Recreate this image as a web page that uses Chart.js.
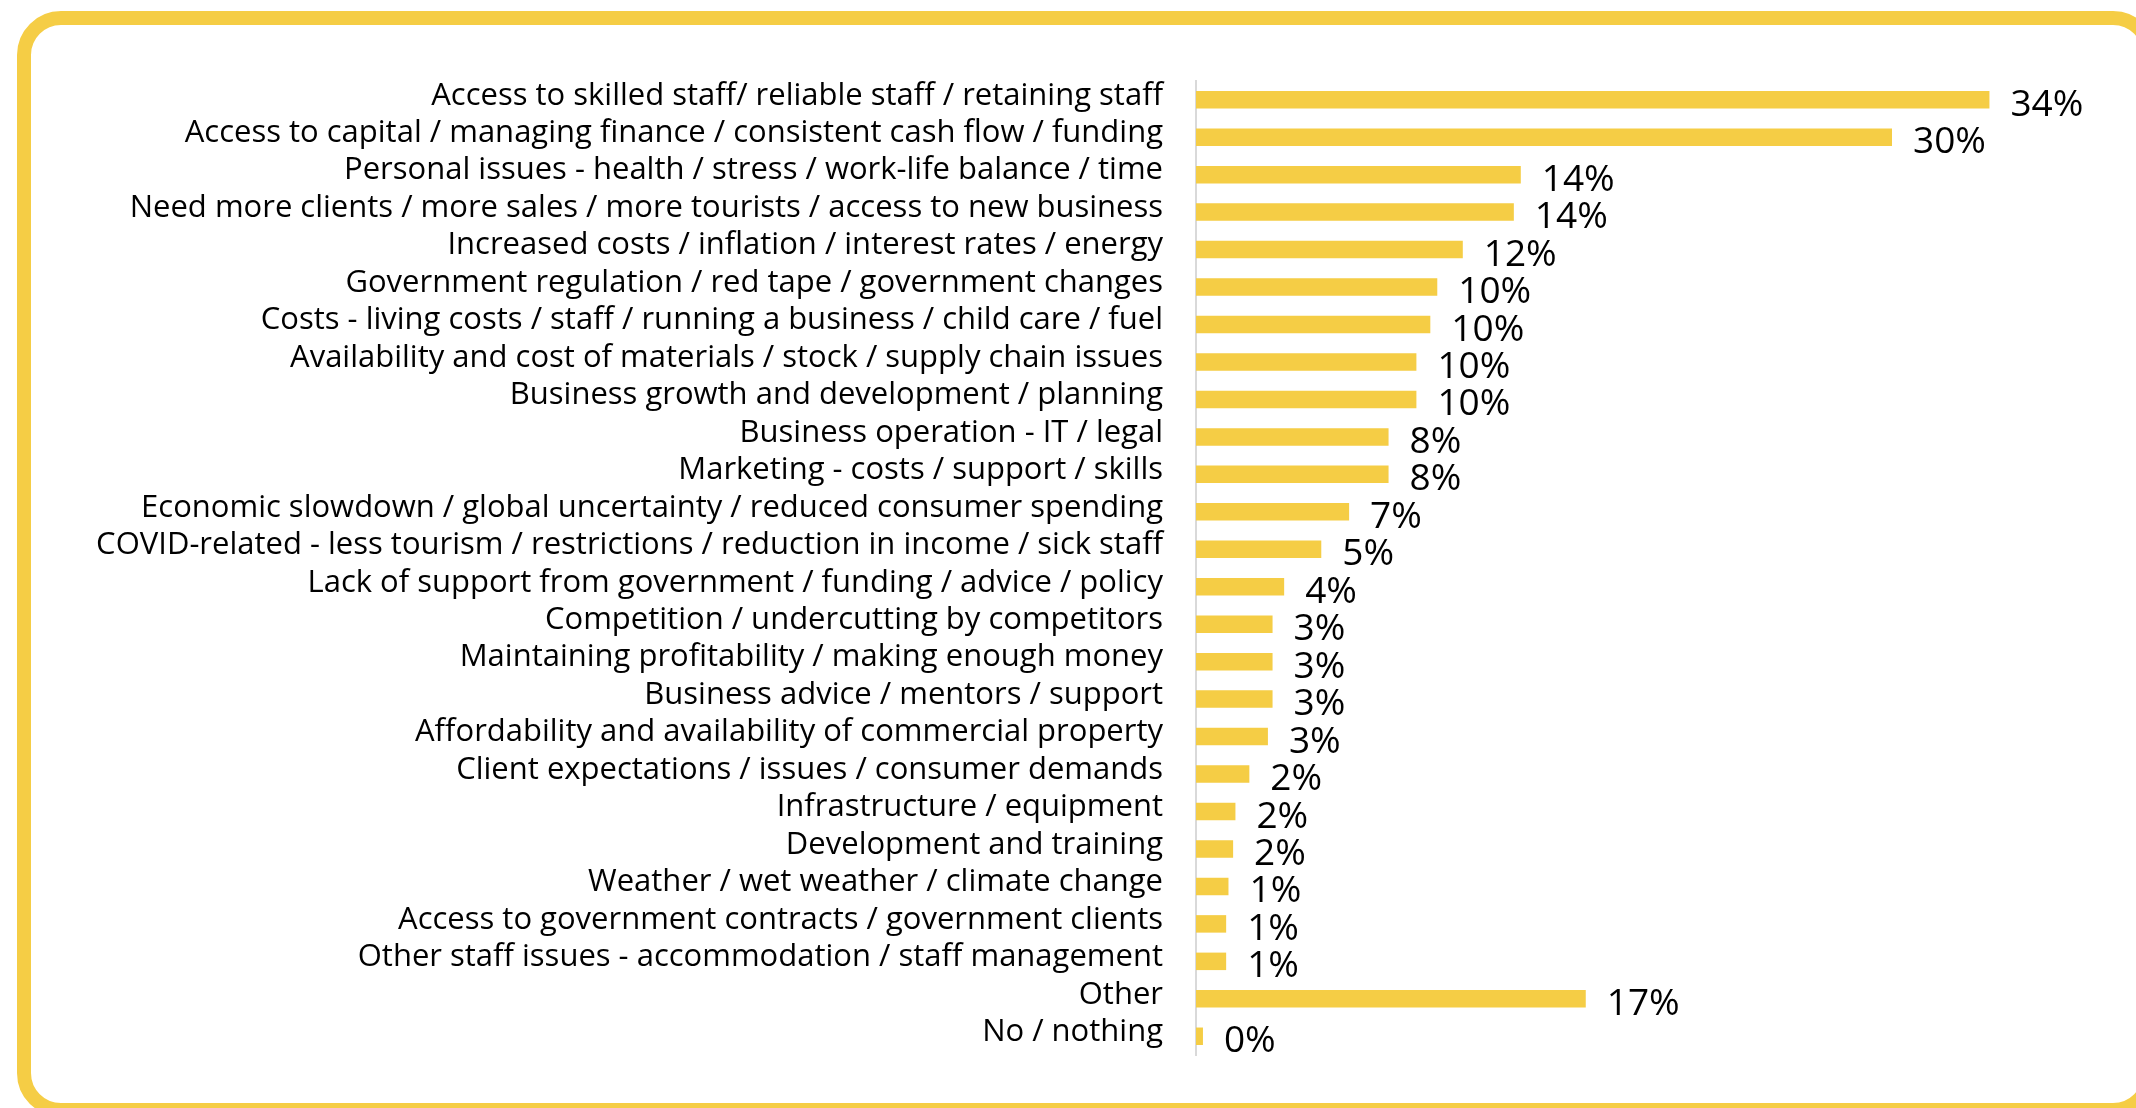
<!DOCTYPE html>
<html>
<head>
<meta charset="utf-8">
<script src="https://cdn.jsdelivr.net/npm/chart.js@4.4.1/dist/chart.umd.min.js"></script>
<style>
  html, body { margin: 0; padding: 0; background: #fff; overflow: hidden; }
  .wrap { position: relative; width: 2136px; height: 1108px; }
  .frame {
    position: absolute;
    left: 17px; top: 11px;
    width: 2140px; height: 1106px;
    box-sizing: border-box;
    border: 14px solid #F5CD45;
    border-radius: 44px;
    pointer-events: none;
  }
  canvas { position: absolute; left: 0; top: 0; }
</style>
</head>
<body>
<div class="wrap">
  <canvas id="challenges" width="2136" height="1108"></canvas>
  <div class="frame"></div>
</div>
<script>
// Biggest business challenges (% of respondents)
const categories = [
  'Access to skilled staff/ reliable staff / retaining staff',
  'Access to capital / managing finance / consistent cash flow / funding',
  'Personal issues - health / stress / work-life balance / time',
  'Need more clients / more sales / more tourists / access to new business',
  'Increased costs / inflation / interest rates / energy',
  'Government regulation / red tape / government changes',
  'Costs - living costs / staff / running a business / child care / fuel',
  'Availability and cost of materials / stock / supply chain issues',
  'Business growth and development / planning',
  'Business operation - IT / legal',
  'Marketing - costs / support / skills',
  'Economic slowdown / global uncertainty / reduced consumer spending',
  'COVID-related - less tourism / restrictions / reduction in income / sick staff',
  'Lack of support from government / funding / advice / policy',
  'Competition / undercutting by competitors',
  'Maintaining profitability / making enough money',
  'Business advice / mentors / support',
  'Affordability and availability of commercial property',
  'Client expectations / issues / consumer demands',
  'Infrastructure / equipment',
  'Development and training',
  'Weather / wet weather / climate change',
  'Access to government contracts / government clients',
  'Other staff issues - accommodation / staff management',
  'Other',
  'No / nothing'
];

const shares = [
  34.2, 30.0, 14.0, 13.7, 11.5, 10.4, 10.1, 9.5, 9.5, 8.3, 8.3, 6.6, 5.4,
  3.8, 3.3, 3.3, 3.3, 3.1, 2.3, 1.7, 1.6, 1.4, 1.3, 1.3, 16.8, 0.3
];

const xRange = [0, 40];

const YELLOW = '#F5CD45';
const FONT = "'Open Sans', 'Noto Sans', sans-serif";

// percentage labels to the right of each bar
const barValueLabels = {
  id: 'barValueLabels',
  afterDatasetsDraw(chart) {
    const ctx = chart.ctx;
    const meta = chart.getDatasetMeta(0);
    ctx.save();
    ctx.font = '37px ' + FONT;
    ctx.fillStyle = '#000';
    ctx.textAlign = 'left';
    ctx.textBaseline = 'alphabetic';
    meta.data.forEach((bar, i) => {
      const v = chart.data.datasets[0].data[i];
      ctx.fillText(Math.round(v) + '%', bar.x + 21, bar.y + 16);
    });
    ctx.restore();
  }
};

new Chart(document.getElementById('challenges'), {
  type: 'bar',
  data: {
    labels: categories,
    datasets: [{
      data: shares,
      backgroundColor: YELLOW,
      borderWidth: 0,
      categoryPercentage: 1,
      barPercentage: 0.467
    }]
  },
  options: {
    indexAxis: 'y',
    responsive: false,
    animation: false,
    layout: { padding: { left: 0, right: 12, top: 81, bottom: 53 } },
    plugins: {
      legend: { display: false },
      tooltip: { enabled: false }
    },
    scales: {
      x: {
        display: false,
        min: xRange[0],
        max: xRange[1]
      },
      y: {
        grid: { display: false, drawTicks: false },
        border: { display: true, color: '#d9d9d9', width: 2 },
        ticks: {
          autoSkip: false,
          color: '#000',
          font: { family: FONT, size: 31 },
          padding: 33,
          labelOffset: -4
        },
        afterFit(scale) {
          scale.width = 1196;
        }
      }
    }
  },
  plugins: [barValueLabels]
});
</script>
</body>
</html>
